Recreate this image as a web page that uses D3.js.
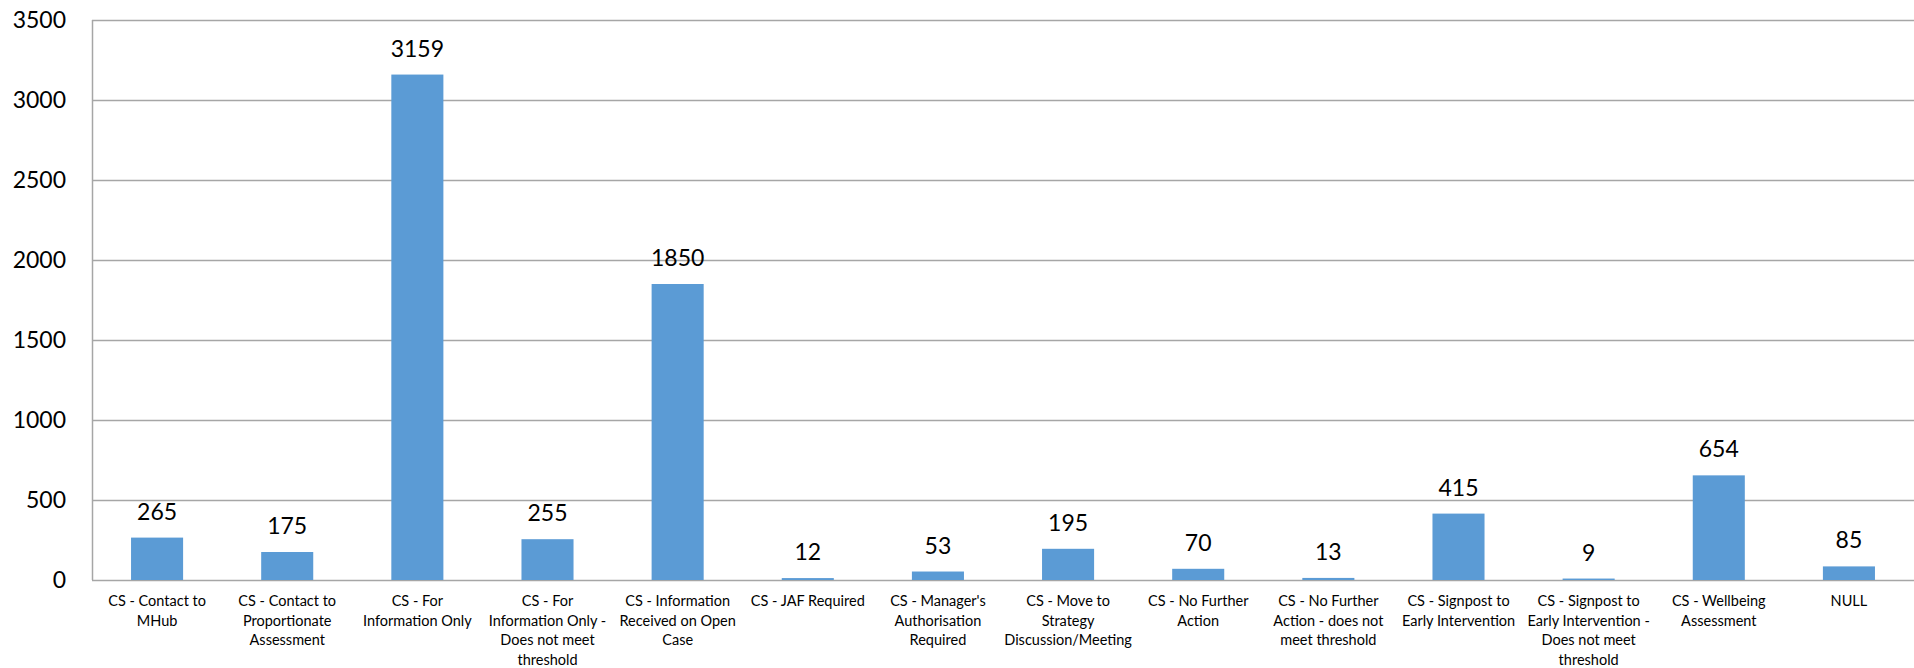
<!DOCTYPE html>
<html>
<head>
<meta charset="utf-8">
<script src="https://cdn.jsdelivr.net/npm/d3@7"></script>
<style>
  html, body { margin: 0; padding: 0; background: #fff; }
  svg { display: block; }
</style>
</head>
<body>
<svg id="chart" width="1914" height="668"></svg>
<script>
const categories = [
  "CS - Contact to\nMHub",
  "CS - Contact to\nProportionate\nAssessment",
  "CS - For\nInformation Only",
  "CS - For\nInformation Only -\nDoes not meet\nthreshold",
  "CS - Information\nReceived on Open\nCase",
  "CS - JAF Required",
  "CS - Manager's\nAuthorisation\nRequired",
  "CS - Move to\nStrategy\nDiscussion/Meeting",
  "CS - No Further\nAction",
  "CS - No Further\nAction - does not\nmeet threshold",
  "CS - Signpost to\nEarly Intervention",
  "CS - Signpost to\nEarly Intervention -\nDoes not meet\nthreshold",
  "CS - Wellbeing\nAssessment",
  "NULL"
];
const values = [265, 175, 3159, 255, 1850, 12, 53, 195, 70, 13, 415, 9, 654, 85];
const yTicks = [0, 500, 1000, 1500, 2000, 2500, 3000, 3500];

const W = 1914, H = 668;
const margin = { left: 92, right: 0, top: 20, bottom: 88 };
const svg = d3.select("#chart");
const font = "Lato, 'Open Sans', sans-serif";

const x = d3.scaleBand()
  .domain(categories.map((d, i) => i))
  .range([margin.left, W - margin.right])
  .paddingInner(0.6)
  .paddingOuter(0.3);

const y = d3.scaleLinear()
  .domain([0, 3500])
  .range([H - margin.bottom, margin.top]);

// gridlines
svg.append("g")
  .selectAll("line")
  .data(yTicks)
  .join("line")
  .attr("x1", margin.left)
  .attr("x2", W - margin.right)
  .attr("y1", d => Math.round(y(d)) + 0.5)
  .attr("y2", d => Math.round(y(d)) + 0.5)
  .attr("stroke", "#a6a6a6")
  .attr("stroke-width", 1.5);

// y axis line
svg.append("line")
  .attr("x1", margin.left + 0.5).attr("x2", margin.left + 0.5)
  .attr("y1", y(3500)).attr("y2", y(0))
  .attr("stroke", "#a6a6a6").attr("stroke-width", 1.5);

// y tick labels
const yAxis = d3.axisLeft(y).tickValues(yTicks).tickFormat(d3.format("d")).tickSize(0).tickPadding(26);
const gy = svg.append("g").attr("transform", `translate(${margin.left},0)`).call(yAxis);
gy.select(".domain").remove();
gy.selectAll("text")
  .attr("font-family", font)
  .attr("font-size", 23)
  .attr("fill", "#000");

// bars
svg.append("g")
  .selectAll("rect")
  .data(values)
  .join("rect")
  .attr("x", (d, i) => x(i))
  .attr("width", x.bandwidth())
  .attr("y", d => y(d))
  .attr("height", d => y(0) - y(d))
  .attr("fill", "#5b9bd5");

// data labels
svg.append("g")
  .selectAll("text")
  .data(values)
  .join("text")
  .attr("x", (d, i) => x(i) + x.bandwidth() / 2)
  .attr("y", d => y(d) - 18)
  .attr("text-anchor", "middle")
  .attr("font-family", font)
  .attr("font-size", 23)
  .attr("fill", "#000")
  .text(d => d);

// category labels
const xAxis = d3.axisBottom(x).tickSize(0).tickFormat(() => "");
const gx = svg.append("g").attr("transform", `translate(0,${y(0)})`).call(xAxis);
gx.select(".domain").remove();
gx.selectAll(".tick text").remove();
gx.selectAll(".tick").each(function(d) {
  const lines = categories[d].split("\n");
  const t = d3.select(this).append("text")
    .attr("text-anchor", "middle")
    .attr("font-family", font)
    .attr("font-size", 14.5)
    .attr("fill", "#000");
  lines.forEach((ln, k) => {
    t.append("tspan").attr("x", 0).attr("y", 26 + k * 19.7).text(ln);
  });
});
</script>
</body>
</html>
